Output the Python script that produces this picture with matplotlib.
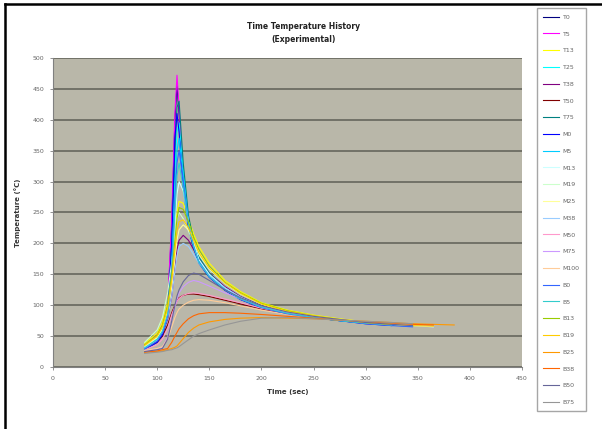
import numpy as np
import matplotlib
matplotlib.use("Agg")
import matplotlib.pyplot as plt
from matplotlib.lines import Line2D

# =====================================================
# DATA
# =====================================================

nan = np.nan

time_sec = [88, 100, 105, 110, 114, 117, 119, 121, 125, 130, 135, 140,
            150, 165, 180, 200, 225, 250, 275, 300, 325, 345, 365, 385]

labels = ["T0", "T5", "T13", "T25", "T38", "T50", "T75",
          "M0", "M5", "M13", "M19", "M25", "M38", "M50", "M75", "M100",
          "B0", "B5", "B13", "B19", "B25", "B38", "B50", "B75"]

T0 = [32, 48, 62, 95, 230, 400, 455, 410, 300, 228, 195, 170, 147, 125, 110, 97, 87, 80, 75, 71, 68, nan, nan, nan]
T5 = [35, 52, 66, 100, 240, 410, 472, 420, 310, 235, 200, 175, 150, 128, 112, 98, 88, 81, 76, 72, 69, 67, nan, nan]
T13 = [38, 55, 72, 105, 160, 215, 250, 268, 265, 240, 215, 195, 168, 140, 122, 104, 92, 84, 78, 73, 70, 68, nan, nan]
T25 = [33, 46, 60, 90, 190, 320, 380, 395, 320, 240, 202, 176, 150, 127, 112, 98, 88, 81, 76, 72, 69, 67, nan, nan]
T38 = [30, 42, 55, 78, 115, 160, 190, 205, 213, 205, 190, 175, 152, 130, 114, 99, 88, 81, 76, 71, 68, 66, nan, nan]
T50 = [30, 40, 50, 68, 88, 100, 107, 112, 116, 118, 118, 117, 114, 108, 102, 94, 86, 80, 76, 72, 69, 67, nan, nan]
T75 = [30, 45, 58, 88, 200, 350, 420, 430, 330, 245, 205, 178, 152, 128, 113, 99, 88, 81, 76, 71, 68, 66, nan, nan]

M0 = [28, 40, 52, 80, 200, 370, 410, 380, 290, 225, 192, 168, 145, 124, 109, 96, 86, 80, 75, 70, 67, nan, nan, nan]
M5 = [30, 44, 57, 85, 170, 290, 350, 370, 310, 235, 198, 172, 148, 126, 111, 97, 87, 80, 75, 71, 68, 66, nan, nan]
M13 = [32, 47, 60, 88, 150, 230, 280, 300, 285, 235, 200, 174, 150, 128, 112, 98, 88, 81, 76, 72, 69, 67, 65, nan]
M19 = [40, 60, 80, 120, 170, 215, 240, 250, 240, 220, 200, 182, 158, 135, 118, 102, 90, 83, 77, 72, 69, 67, nan, nan]
M25 = [34, 48, 62, 90, 130, 175, 205, 222, 230, 222, 205, 186, 161, 137, 119, 102, 90, 82, 77, 72, 69, nan, nan, nan]
M38 = [31, 43, 56, 80, 115, 155, 180, 195, 200, 195, 182, 168, 148, 128, 113, 98, 88, 81, 76, 71, 68, nan, nan, nan]
M50 = [28, 36, 45, 62, 85, 98, 106, 111, 116, 119, 120, 119, 116, 110, 104, 95, 87, 81, 76, 72, 69, nan, nan, nan]
M75 = [26, 29, 32, 48, 75, 98, 110, 120, 130, 137, 140, 138, 131, 120, 110, 98, 88, 81, 76, 71, 68, nan, nan, nan]
M100 = [27, 30, 33, 45, 65, 80, 88, 94, 100, 105, 108, 109, 108, 104, 99, 92, 85, 80, 76, 72, 70, 68, nan, nan]

B0 = [29, 42, 55, 82, 160, 270, 330, 350, 300, 232, 196, 170, 146, 125, 110, 96, 86, 80, 75, 70, 67, 65, nan, nan]
B5 = [31, 45, 58, 86, 150, 250, 310, 330, 290, 228, 194, 169, 146, 125, 110, 97, 87, 80, 75, 71, 68, nan, nan, nan]
B13 = [36, 52, 68, 100, 150, 205, 240, 258, 255, 235, 210, 190, 163, 137, 120, 103, 91, 83, 77, 72, 69, nan, nan, nan]
B19 = [35, 50, 65, 95, 140, 190, 220, 235, 238, 225, 205, 185, 160, 136, 119, 102, 90, 83, 77, 72, 69, 67, 66, nan]
B25 = [24, 25, 26, 28, 30, 32, 34, 38, 46, 56, 63, 68, 73, 77, 79, 80, 79, 78, 76, 74, 72, 70, 69, 68]
B38 = [24, 26, 28, 30, 40, 50, 56, 62, 70, 78, 83, 86, 88, 88, 87, 85, 82, 79, 76, 73, 71, 69, 68, nan]
B50 = [25, 28, 30, 45, 75, 100, 115, 125, 138, 148, 152, 150, 140, 125, 112, 99, 89, 82, 77, 72, 69, 67, nan, nan]
B75 = [22, 24, 25, 27, 28, 30, 31, 33, 38, 44, 50, 54, 60, 68, 74, 79, 80, 78, 76, 74, 72, 70, nan, nan]

series = [T0, T5, T13, T25, T38, T50, T75,
          M0, M5, M13, M19, M25, M38, M50, M75, M100,
          B0, B5, B13, B19, B25, B38, B50, B75]

# Excel 2003 default line series colours
colors = ["#000080", "#FF00FF", "#FFFF00", "#00FFFF", "#800080", "#800000",
          "#008080", "#0000FF", "#00CCFF", "#CCFFFF", "#CCFFCC", "#FFFF99",
          "#99CCFF", "#FF99CC", "#CC99FF", "#FFCC99", "#3366FF", "#33CCCC",
          "#99CC00", "#FFCC00", "#FF9900", "#FF6600", "#666699", "#969696"]

# =====================================================
# PLOT
# =====================================================

fig = plt.figure(figsize=(6.02, 4.29), dpi=100)
fig.patch.set_facecolor("white")

ax = fig.add_axes([0.088, 0.1445, 0.779, 0.7205])
ax.set_facecolor("#B9B7A9")

lines = []
for name, vals, col in zip(labels, series, colors):
    ln, = ax.plot(time_sec, vals, color=col, lw=0.8, label=name, zorder=3)
    lines.append(ln)

ax.set_xlim(0, 450)
ax.set_ylim(0, 500)
ax.set_xticks(np.arange(0, 451, 50))
ax.set_yticks(np.arange(0, 501, 50))
ax.yaxis.grid(True, color="#727268", lw=1.4, zorder=1)
ax.set_axisbelow(True)

for side in ["top", "right"]:
    ax.spines[side].set_visible(False)
for side in ["left", "bottom"]:
    ax.spines[side].set_color("#808080")
    ax.spines[side].set_linewidth(0.8)

ax.tick_params(axis="both", labelsize=4.5, colors="#808080", labelcolor="#666666",
               length=2.5, width=0.6, direction="out", pad=4)

ax.set_xlabel("Time (sec)", fontsize=5, fontweight="bold", color="#333333", labelpad=6)
ax.set_ylabel("Temperature (\u00b0C)", fontsize=5, fontweight="bold", color="#333333", labelpad=8)

fig.text(0.505, 0.923, "Time Temperature History\n(Experimental)", ha="center", va="center",
         fontsize=5.5, fontweight="bold", color="#222222", linespacing=1.5)

leg = fig.legend(handles=lines, labels=labels, loc="upper left",
                 bbox_to_anchor=(0.892, 0.981), fontsize=4.5, frameon=True,
                 fancybox=False, edgecolor="#909090", labelspacing=1.82,
                 handlelength=2.6, borderpad=1.0, handletextpad=0.5,
                 borderaxespad=0)
leg.get_frame().set_linewidth(1.0)
for t in leg.get_texts():
    t.set_color("#666666")

# outer frame (top and left edges visible)
fig.add_artist(Line2D([5 / 602, 1.0], [1 - 4 / 429, 1 - 4 / 429], transform=fig.transFigure,
                      color="black", lw=1.8))
fig.add_artist(Line2D([5 / 602, 5 / 602], [0.0, 1 - 4 / 429], transform=fig.transFigure,
                      color="black", lw=1.8))

fig.savefig("out.png", dpi=100)
